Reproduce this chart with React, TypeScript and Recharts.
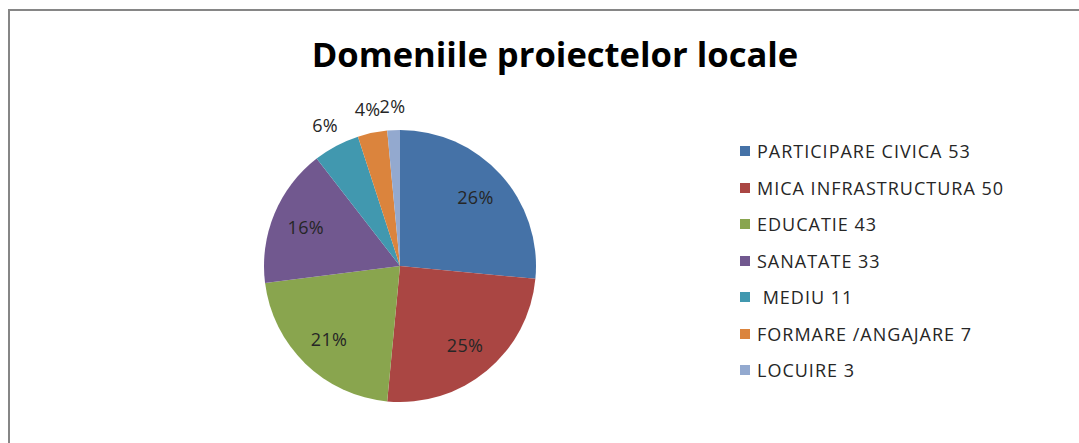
import { PieChart, Pie, Cell, Legend } from 'recharts';

const categories = [
  'PARTICIPARE CIVICA',
  'MICA INFRASTRUCTURA',
  'EDUCATIE',
  'SANATATE',
  ' MEDIU',
  'FORMARE /ANGAJARE',
  'LOCUIRE',
];
const values = [53, 50, 43, 33, 11, 7, 3];
const percentLabels = ['26%', '25%', '21%', '16%', '6%', '4%', '2%'];
const colors = ['#4572A7', '#AA4643', '#89A54E', '#71588F', '#4198AF', '#DB843D', '#93A9CF'];

const chartData = categories.map((name, i) => ({
  name,
  value: values[i],
  label: percentLabels[i],
}));

const FONT = "'Open Sans', 'Noto Sans', sans-serif";
const RAD = Math.PI / 180;

const renderLabel = (props: any) => {
  const { cx, cy, midAngle, outerRadius, percent, index } = props;
  const r = percent < 0.1 ? outerRadius + 24 : outerRadius * 0.75;
  const x = cx + r * Math.cos(-midAngle * RAD);
  const y = cy + r * Math.sin(-midAngle * RAD);
  return (
    <text
      x={x}
      y={y}
      textAnchor="middle"
      dominantBaseline="central"
      fill="#262626"
      fontSize={18}
      letterSpacing={0.3}
      fontFamily={FONT}
    >
      {percentLabels[index]}
    </text>
  );
};

const LegendList = () => (
  <div style={{ fontFamily: FONT, fontSize: 18, letterSpacing: 1, color: '#262626' }}>
    {chartData.map((d, i) => (
      <div
        key={i}
        style={{ display: 'flex', alignItems: 'center', height: 36.5, whiteSpace: 'pre' }}
      >
        <span
          style={{ width: 10, height: 10, background: colors[i], marginRight: 7, display: 'inline-block' }}
        />
        <span>{`${d.name} ${d.value}`}</span>
      </div>
    ))}
  </div>
);

export default function App() {
  return (
    <div style={{ position: 'absolute', left: 0, top: 0, width: 1079, height: 443, background: '#fff' }}>
      <div
        style={{
          position: 'absolute',
          left: 8,
          top: 9,
          right: 0,
          bottom: 0,
          borderLeft: '2px solid #868686',
          borderTop: '2px solid #868686',
        }}
      />
      <div
        style={{
          position: 'absolute',
          left: 0,
          width: 1110,
          top: 29,
          textAlign: 'center',
          fontFamily: FONT,
          fontWeight: 700,
          fontSize: 34.6,
          color: '#000',
          lineHeight: '50px',
        }}
      >
        Domeniile proiectelor locale
      </div>
      <PieChart
        width={1079}
        height={443}
        margin={{ top: 0, right: 0, bottom: 0, left: 0 }}
        style={{ position: 'absolute', left: 0, top: 0 }}
      >
        <Pie
          data={chartData}
          dataKey="value"
          nameKey="name"
          cx={400}
          cy={266}
          outerRadius={136}
          startAngle={90}
          endAngle={-270}
          stroke="none"
          label={renderLabel}
          labelLine={false}
          isAnimationActive={false}
        >
          {chartData.map((_, i) => (
            <Cell key={i} fill={colors[i]} />
          ))}
        </Pie>
        <Legend
          layout="vertical"
          content={() => <LegendList />}
          wrapperStyle={{ position: 'absolute', left: 740, top: 133, width: 330 }}
        />
      </PieChart>
    </div>
  );
}
